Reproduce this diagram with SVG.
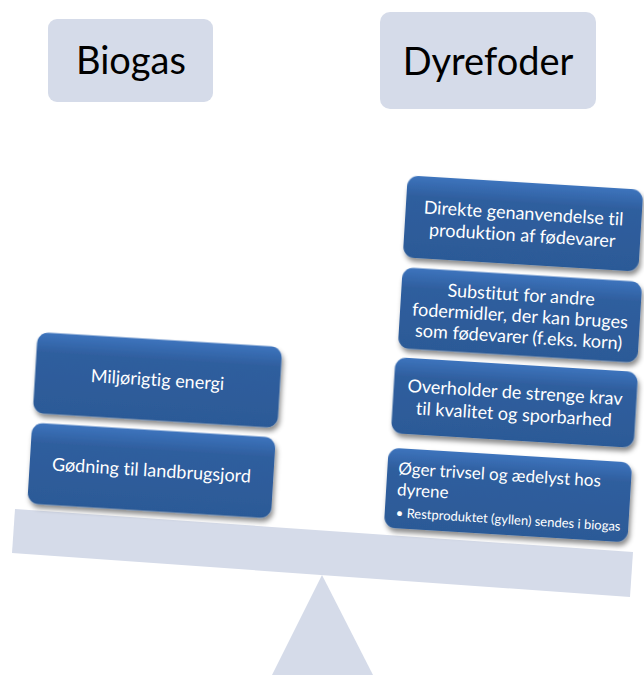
<svg xmlns="http://www.w3.org/2000/svg" width="644" height="675" viewBox="0 0 644 675">
<defs>
<linearGradient id="bg" x1="0" y1="0" x2="0" y2="1">
<stop offset="0" stop-color="#3d74bd"/>
<stop offset="0.25" stop-color="#2f5e9e"/>
<stop offset="1" stop-color="#2c5a97"/>
</linearGradient>
<filter id="sh" x="-10%" y="-10%" width="125%" height="135%">
<feGaussianBlur in="SourceAlpha" stdDeviation="2.5"/>
<feOffset dx="2" dy="4" result="b"/>
<feFlood flood-color="#000" flood-opacity="0.45"/>
<feComposite in2="b" operator="in"/>
<feMerge><feMergeNode/><feMergeNode in="SourceGraphic"/></feMerge>
</filter>
<style>
text{font-family:Lato,"Liberation Sans",sans-serif;font-variant-ligatures:none}
.hdr{fill:#d5dbe9}
.hdrt{font-size:38px;fill:#000;text-anchor:middle}
.box{fill:url(#bg);filter:url(#sh)}
.t{font-size:18px;fill:#fff;text-anchor:middle}
.tl{font-size:17px;fill:#fff}
.ts{font-size:13px;fill:#fff}
.lt{fill:#d5dbe9}
</style>
</defs>
<rect width="644" height="675" fill="#fff"/>
<g id="biogas">
<rect class="hdr" x="48" y="19" width="165" height="83" rx="9"/>
<text class="hdrt" x="131" y="74">Biogas</text>
</g>
<g id="dyrefoder">
<rect class="hdr" x="380" y="12" width="216" height="97" rx="10"/>
<text class="hdrt" x="488" y="75">Dyrefoder</text>
</g>
<g id="fulcrum">
<polygon class="lt" points="322,575 373,675 272,675"/>
</g>
<g id="beam">
<polygon class="lt" points="15,509 633,552 630,597 12,553"/>
</g>
<g id="l1" transform="translate(157.5,380) rotate(3.5)">
<rect class="box" x="-122.5" y="-40.5" width="245" height="81" rx="11"/>
<text class="t" x="0" y="6">Miljørigtig energi</text>
</g>
<g id="l2" transform="translate(151.5,470.5) rotate(3.5)">
<rect class="box" x="-122" y="-40.5" width="244" height="81" rx="11"/>
<text class="t" x="0" y="6">Gødning til landbrugsjord</text>
</g>
<g id="r1" transform="translate(523,223.5) rotate(3.5)">
<rect class="box" x="-118" y="-41" width="236" height="82" rx="11"/>
<text class="t" x="0" y="-4">Direkte genanvendelse til</text>
<text class="t" x="0" y="18">produktion af fødevarer</text>
</g>
<g id="r2" transform="translate(520,315) rotate(3.5)">
<rect class="box" x="-120" y="-40.5" width="240" height="81" rx="11"/>
<text class="t" x="0" y="-14">Substitut for andre</text>
<text class="t" x="0" y="7">fodermidler, der kan bruges</text>
<text class="t" x="0" y="28">som fødevarer (f.eks. korn)</text>
</g>
<g id="r3" transform="translate(514.5,402.5) rotate(3.5)">
<rect class="box" x="-121.5" y="-38" width="243" height="76" rx="11"/>
<text class="t" x="0" y="-4">Overholder de strenge krav</text>
<text class="t" x="0" y="18">til kvalitet og sporbarhed</text>
</g>
<g id="r4" transform="translate(508,495) rotate(3.5)">
<rect class="box" x="-122" y="-40" width="244" height="80" rx="11"/>
<text class="tl" x="-111" y="-14">Øger trivsel og ædelyst hos</text>
<text class="tl" x="-111" y="7">dyrene</text>
<text class="ts" x="-111" y="29">•</text>
<text class="ts" x="-100" y="29">Restproduktet (gyllen) sendes i biogas</text>
</g>
</svg>
